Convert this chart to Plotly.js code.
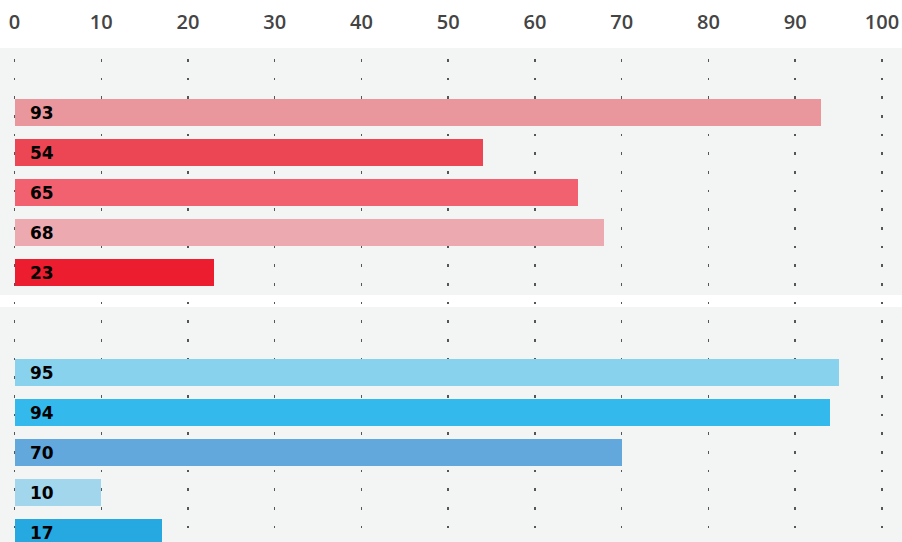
<!DOCTYPE html>
<html>
<head>
<meta charset="utf-8">
<script src="https://cdn.plot.ly/plotly-3.0.1.min.js"></script>
<style>
html,body{margin:0;padding:0;background:#fff;overflow:hidden;}
#chart{width:902px;height:542px;}
</style>
</head>
<body>
<div id="chart"></div>
<script>
// ---- data ----
var groupAValues = [93, 54, 65, 68, 23];
var groupAColors = ['#e9969c', '#ec4654', '#f2616f', '#ecaab0', '#ed1d30'];
var groupBValues = [95, 94, 70, 10, 17];
var groupBColors = ['#89d2ee', '#33b9ec', '#62a8dc', '#a2d6ed', '#25a9e0'];
var xTickVals = [0, 10, 20, 30, 40, 50, 60, 70, 80, 90, 100];
var xTickText = ['0', '10', '20', '30', '40', '50', '60', '70', '80', '90', '100'];

// ---- layout helpers (row positions) ----
var groupBOffset = 6.5;
var yA = groupAValues.map(function (v, i) { return i; });
var yB = groupBValues.map(function (v, i) { return i + groupBOffset; });

var traces = [
  {type: 'bar', orientation: 'h', x: groupAValues, y: yA, width: 0.675,
   marker: {color: groupAColors, line: {width: 0}}, hoverinfo: 'x', showlegend: false},
  {type: 'bar', orientation: 'h', x: groupBValues, y: yB, width: 0.675,
   marker: {color: groupBColors, line: {width: 0}}, hoverinfo: 'x', showlegend: false}
];

var annotations = [];
function addLabels(vals, ys) {
  vals.forEach(function (v, i) {
    annotations.push({
      x: 0, y: ys[i], xref: 'x', yref: 'y', text: String(v), showarrow: false,
      xanchor: 'left', yanchor: 'middle', xshift: 13, yshift: -1,
      font: {family: 'DejaVu Sans', size: 17, color: '#000', weight: 700}
    });
  });
}
addLabels(groupAValues, yA);
addLabels(groupBValues, yB);

var layout = {
  width: 902, height: 542,
  margin: {l: 0, r: 0, t: 48, b: 0, pad: 0},
  paper_bgcolor: '#ffffff', plot_bgcolor: '#ffffff',
  bargap: 0,
  xaxis: {
    side: 'top', range: [-1.672, 102.31], tickmode: 'array',
    tickvals: xTickVals, ticktext: xTickText, ticks: '', showline: false,
    zeroline: false, showgrid: true, gridcolor: '#555', gridwidth: 1.5,
    griddash: '0px,11px,2.5px,5.17px',
    tickfont: {family: 'Open Sans', size: 20, color: '#444', weight: 600},
    ticklabelstandoff: 14, fixedrange: true
  },
  yaxis: {
    range: [10.75, -1.6], showticklabels: false, showgrid: false,
    zeroline: false, showline: false, ticks: '', fixedrange: true
  },
  shapes: [
    {type: 'rect', layer: 'below', xref: 'paper', yref: 'y', x0: 0, x1: 1, y0: -1.6, y1: 4.575,
     fillcolor: '#f3f4f4', line: {width: 0}},
    {type: 'rect', layer: 'below', xref: 'paper', yref: 'y', x0: 0, x1: 1, y0: 4.875, y1: 10.75,
     fillcolor: '#f3f4f4', line: {width: 0}}
  ],
  annotations: annotations,
  showlegend: false
};

Plotly.newPlot('chart', traces, layout, {displayModeBar: false, staticPlot: true});
</script>
</body>
</html>
